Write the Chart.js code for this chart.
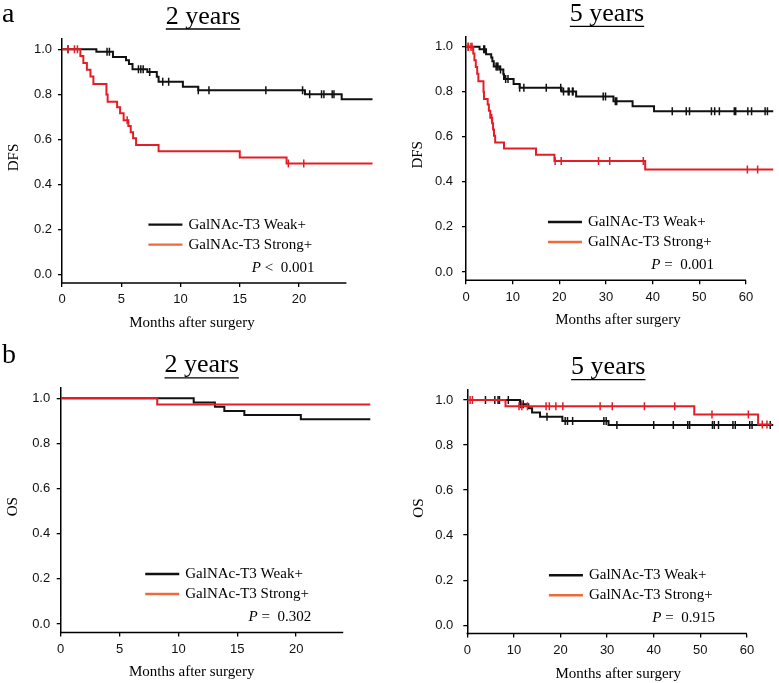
<!DOCTYPE html>
<html>
<head>
<meta charset="utf-8">
<script src="https://cdn.jsdelivr.net/npm/chart.js@4.4.1/dist/chart.umd.min.js"></script>
<style>
  html, body { margin: 0; padding: 0; background: #fff; }
  #wrap { position: relative; width: 779px; height: 683px; }
  canvas { position: absolute; }
</style>
</head>
<body>
<div id="wrap">
  <canvas id="dfs2" width="390" height="340" style="left:0;top:0"></canvas>
  <canvas id="dfs5" width="389" height="340" style="left:390px;top:0"></canvas>
  <canvas id="os2" width="390" height="343" style="left:0;top:340px"></canvas>
  <canvas id="os5" width="389" height="343" style="left:390px;top:340px"></canvas>
</div>
<script>
// Kaplan-Meier curves: event times (months) and survival after each event
var seriesNames = ['GalNAc-T3 Weak+', 'GalNAc-T3 Strong+'];

var dfsWeakTime = [0, 2.9, 4.3, 5.4, 5.65, 5.95, 7.2, 8.0, 8.15, 10.2, 11.5, 20.5, 23.6, 31.6, 35.7, 40.3, 65.9];
var dfsWeakSurv = [1, 0.989, 0.966, 0.952, 0.935, 0.912, 0.899, 0.878, 0.856, 0.834, 0.818, 0.801, 0.779, 0.758, 0.736, 0.713, 0.713];
var dfsWeakCens = [0.5, 3.8, 4.0, 6.45, 6.65, 6.85, 7.4, 8.5, 9.0, 11.5, 12.4, 17.2, 20.3, 20.9, 21.9, 22.1,
                   22.8, 22.95, 29.4, 29.9, 32.0, 32.3, 44.2, 47.2, 47.9, 52.6, 53.3, 54.3, 57.5, 57.8,
                   60.4, 61.2, 64.1, 64.6];

var dfsStrongTime = [0, 1.55, 1.8, 2.1, 2.4, 2.65, 3.75, 3.85, 4.65, 4.9, 5.2, 5.6, 5.8, 6.0, 6.25, 8.15, 15.0, 18.95, 38.4, 65.9];
var dfsStrongSurv = [1, 0.97, 0.94, 0.91, 0.88, 0.846, 0.80, 0.768, 0.743, 0.716, 0.685, 0.66, 0.632, 0.605, 0.575, 0.548, 0.52, 0.493, 0.455, 0.455];
var dfsStrongCens = [0.5, 1.05, 1.3, 5.5, 19.1, 20.4, 28.4, 30.8, 38.0, 60.3, 62.5];

var osWeakTime = [0, 11.3, 13.1, 13.9, 15.6, 20.4, 30.3, 65.7];
var osWeakSurv = [1, 0.981, 0.963, 0.944, 0.926, 0.907, 0.889, 0.889];
var osWeakCens = [3.9, 5.9, 6.6, 6.9, 8.8, 11.5, 12.0, 17.1, 21.0, 21.5, 22.6, 29.3, 29.8, 32.1, 40.0,
                  44.2, 47.3, 47.7, 52.6, 53.0, 53.9, 57.0, 57.5, 60.6, 61.1, 65.0];

var osStrongTime = [0, 8.2, 48.7, 62.4, 65.4];
var osStrongSurv = [1, 0.972, 0.935, 0.891, 0.891];
var osStrongCens = [0.6, 1.1, 11.1, 11.7, 12.9, 16.9, 17.6, 19.0, 20.5, 28.5, 31.1, 38.0, 44.5, 52.5,
                    60.3, 63.3, 64.3];

var yTicks = [0, 0.2, 0.4, 0.6, 0.8, 1.0];
var xTicks2y = [0, 5, 10, 15, 20];
var xTicks5y = [0, 10, 20, 30, 40, 50, 60];
var pValues = ['0.001', '0.001', '0.302', '0.915'];
var pSigns = ['<', '=', '=', '='];

var weakColor = '#111111';
var strongColor = '#e31e26';
var strongLegendColor = '#ee6a3a';
var serif = '"Liberation Serif", "Times New Roman", serif';
var sans = '"Liberation Sans", Arial, sans-serif';

function survAt(times, surv, t) {
  var s = surv[0];
  for (var i = 0; i < times.length; i++) {
    if (times[i] <= t) s = surv[i];
  }
  return s;
}

function curve(times, surv) {
  return times.map(function (t, i) { return {x: t, y: surv[i]}; });
}

function marks(times, surv, cens) {
  return cens.map(function (t) { return {x: t, y: survAt(times, surv, t)}; });
}

// extra drawing: axis line, headings, legend and p value
var kmDecor = {
  id: 'kmDecor',
  afterDraw: function (chart, args, o) {
    var ctx = chart.ctx, a = chart.chartArea;
    var xs = chart.scales.x, ys = chart.scales.y;
    var x0 = xs.getPixelForValue(0), xe = xs.getPixelForValue(o.axisEnd), y0 = ys.getPixelForValue(0);
    ctx.save();
    ctx.strokeStyle = '#000';
    ctx.lineWidth = 1.5;
    ctx.beginPath();
    ctx.moveTo(x0 - 0.75, a.bottom);
    ctx.lineTo(xe, a.bottom);
    ctx.stroke();

    // panel heading, underlined
    ctx.fillStyle = '#000';
    ctx.font = '26px ' + serif;
    ctx.textAlign = 'center';
    ctx.textBaseline = 'alphabetic';
    var tx = a.left + 141, ty = a.top - 15.5;
    ctx.fillText(o.title, tx, ty);
    var tw = ctx.measureText(o.title).width;
    ctx.lineWidth = 1.3;
    ctx.beginPath();
    ctx.moveTo(tx - tw / 2, ty + 5.5);
    ctx.lineTo(tx + tw / 2, ty + 5.5);
    ctx.stroke();

    if (o.letter) {
      ctx.font = '28px ' + serif;
      ctx.textAlign = 'left';
      ctx.fillText(o.letter, 2, o.letterBase);
    }

    // axis titles
    ctx.font = '15px ' + serif;
    ctx.textAlign = 'center';
    ctx.textBaseline = 'middle';
    ctx.fillText('Months after surgery', a.left + o.xTitleDx, a.bottom + 40);
    ctx.save();
    ctx.translate(a.left - 48, ys.getPixelForValue(0.52));
    ctx.rotate(-Math.PI / 2);
    ctx.fillText(o.yTitle, 0, 0);
    ctx.restore();

    // legend
    var lx = xe - 198;
    var rows = [[weakColor, seriesNames[0], y0 - 50], [strongLegendColor, seriesNames[1], y0 - 30]];
    ctx.lineWidth = 2.4;
    ctx.textAlign = 'left';
    rows.forEach(function (r) {
      ctx.strokeStyle = r[0];
      ctx.beginPath();
      ctx.moveTo(lx, r[2]);
      ctx.lineTo(lx + 34, r[2]);
      ctx.stroke();
      ctx.fillText(r[1], lx + 40, r[2]);
    });

    // p value, italic P
    var rest = ' ' + o.pSign + '  ' + o.pValue;
    var wRest = ctx.measureText(rest).width;
    var px = xe - 32 - wRest;
    ctx.textAlign = 'left';
    ctx.fillText(rest, px, y0 - 7);
    ctx.font = 'italic 15px ' + serif;
    ctx.textAlign = 'right';
    ctx.fillText('P', px, y0 - 7);
    ctx.restore();
  }
};

var panels = [
  {id: 'dfs2', w: 390, h: 340, area: [62, 39, 372.5, 283], xMax: 26.2, axisEnd: 24, xTicks: xTicks2y,
   yTitle: 'DFS', title: '2 years', letter: 'a', letterBase: 22, xTitleDx: 130, yPad: 6, cens: true,
   weak: [dfsWeakTime, dfsWeakSurv, dfsWeakCens], strong: [dfsStrongTime, dfsStrongSurv, dfsStrongCens], p: 0},
  {id: 'dfs5', w: 389, h: 340, area: [76, 36.3, 385.1, 280.3], xMax: 65.9, axisEnd: 60, xTicks: xTicks5y,
   yTitle: 'DFS', title: '5 years', letter: '', letterBase: 0, xTitleDx: 152, yPad: 9, cens: true,
   weak: [dfsWeakTime, dfsWeakSurv, dfsWeakCens], strong: [dfsStrongTime, dfsStrongSurv, dfsStrongCens], p: 1},
  {id: 'os2', w: 390, h: 343, area: [60.7, 47.9, 370.3, 292.4], xMax: 26.3, axisEnd: 24, xTicks: xTicks2y,
   yTitle: 'OS', title: '2 years', letter: 'b', letterBase: 23, xTitleDx: 131, yPad: 6.5, cens: false,
   weak: [osWeakTime, osWeakSurv, osWeakCens], strong: [osStrongTime, osStrongSurv, osStrongCens], p: 2},
  {id: 'os5', w: 389, h: 343, area: [77.3, 49.6, 386.9, 293.6], xMax: 65.7, axisEnd: 60, xTicks: xTicks5y,
   yTitle: 'OS', title: '5 years', letter: '', letterBase: 0, xTitleDx: 151, yPad: 10, cens: true,
   weak: [osWeakTime, osWeakSurv, osWeakCens], strong: [osStrongTime, osStrongSurv, osStrongCens], p: 3}
];

panels.forEach(function (p) {
  var datasets = [
    {label: seriesNames[0], data: curve(p.weak[0], p.weak[1]), borderColor: weakColor, borderWidth: 2,
     stepped: true, pointRadius: 0, fill: false, order: 2},
    {label: seriesNames[1], data: curve(p.strong[0], p.strong[1]), borderColor: strongColor, borderWidth: 2,
     stepped: true, pointRadius: 0, fill: false, order: 1}
  ];
  if (p.cens) {
    datasets.push({label: 'censor weak', data: marks(p.weak[0], p.weak[1], p.weak[2]), showLine: false,
      pointStyle: 'line', rotation: 90, pointRadius: 4, pointBorderWidth: 1.5,
      pointBorderColor: weakColor, borderColor: weakColor, order: 2});
    datasets.push({label: 'censor strong', data: marks(p.strong[0], p.strong[1], p.strong[2]), showLine: false,
      pointStyle: 'line', rotation: 90, pointRadius: 4, pointBorderWidth: 1.5,
      pointBorderColor: strongColor, borderColor: strongColor, order: 1});
  }

  new Chart(document.getElementById(p.id), {
    type: 'line',
    data: {datasets: datasets},
    plugins: [kmDecor],
    options: {
      responsive: false,
      animation: false,
      events: [],
      layout: {padding: {left: 0, top: p.area[1], right: p.w - p.area[2], bottom: 0}},
      plugins: {
        legend: {display: false},
        tooltip: {enabled: false},
        kmDecor: {axisEnd: p.axisEnd, title: p.title, letter: p.letter, letterBase: p.letterBase,
                  xTitleDx: p.xTitleDx, yTitle: p.yTitle, pSign: pSigns[p.p], pValue: pValues[p.p]}
      },
      scales: {
        x: {
          type: 'linear', min: 0, max: p.xMax,
          afterBuildTicks: function (s) { s.ticks = p.xTicks.map(function (v) { return {value: v}; }); },
          afterFit: function (s) { s.height = p.h - p.area[3]; },
          grid: {display: true, drawOnChartArea: false, drawTicks: true, tickLength: 4, color: '#000', lineWidth: 1.3},
          border: {display: false},
          ticks: {color: '#111', font: {family: sans, size: 13}, padding: 5, maxRotation: 0,
                  callback: function (v) { return String(v); }}
        },
        y: {
          min: -0.037, max: 1.046,
          afterBuildTicks: function (s) { s.ticks = yTicks.map(function (v) { return {value: v}; }); },
          afterFit: function (s) { s.width = p.area[0]; },
          grid: {display: true, drawOnChartArea: false, drawTicks: true, tickLength: 4, color: '#000', lineWidth: 1.3},
          border: {display: true, color: '#000', width: 1.5},
          ticks: {color: '#111', font: {family: sans, size: 13}, padding: p.yPad,
                  callback: function (v) { return v.toFixed(1); }}
        }
      }
    }
  });
});
</script>
</body>
</html>
